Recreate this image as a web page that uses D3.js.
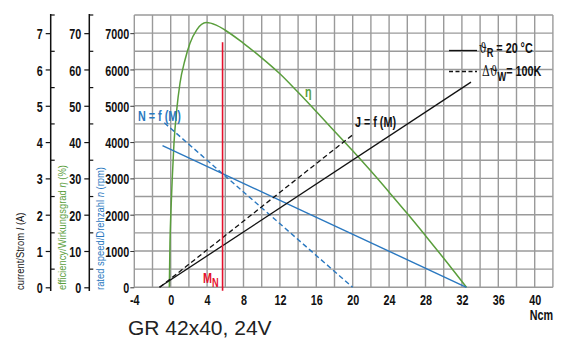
<!DOCTYPE html>
<html><head><meta charset="utf-8">
<script src="https://cdn.jsdelivr.net/npm/d3@7/dist/d3.min.js"></script>
<style>
body{margin:0;background:#fff;}
svg{display:block;}
.tk{font-family:"Liberation Sans",Arial,sans-serif;font-weight:bold;font-size:14px;}
.ttl{font-family:"Liberation Sans",Arial,sans-serif;font-size:11.5px;}
</style></head>
<body>
<svg id="c" width="569" height="358"></svg>
<script>
// ---- data ----
const xTicks = [-4, 0, 4, 8, 12, 16, 20, 24, 28, 32, 36, 40];
const speedTicks = [0, 1000, 2000, 3000, 4000, 5000, 6000, 7000];
const effTicks = [0, 10, 20, 30, 40, 50, 60, 70];
const curTicks = [0, 1, 2, 3, 4, 5, 6, 7];

// speed n = f(M), rpm
const speedColdM = [-0.9, 32.5];
const speedColdN = [3900, 0];
const speedHotM = [-0.7, 20];
const speedHotN = [4530, 0];
// current I = f(M), A
const curColdM = [-1.25, 33];
const curColdI = [0, 5.65];
const curHotM = [-1.2, 20];
const curHotI = [0, 4.2];
// efficiency eta, %
const effM = [-0.15, -0.08, 0.03, 0.18, 0.36, 0.66, 1.02, 1.57, 2.12, 2.86, 3.9, 5, 6, 8, 10, 12, 14, 16, 18, 20, 22, 24, 26, 28, 30, 32.5];
const effV = [0, 12, 21.3, 30.5, 39.7, 48.8, 56.2, 62.6, 67.2, 70.9, 72.9, 72.2, 70.8, 67.2, 63.2, 58.8, 53.7, 48.4, 43.0, 37.6, 32.0, 26.2, 20.3, 14.2, 8.0, 0];
// rated torque
const ratedM = 5.7;
const ratedTop = 6750; // in rpm-scale units

// ---- layout ----
const svg = d3.select("#c");
const x = d3.scaleLinear().domain([-4, 42]).range([134.3, 552.9]);
const yN = d3.scaleLinear().domain([0, 7500]).range([287.3, 15]);
const yE = d3.scaleLinear().domain([0, 75]).range([287.3, 15]);
const yI = d3.scaleLinear().domain([0, 7.5]).range([287.3, 15]);

const GREEN = "#5a9e3c", BLUE = "#2a78c0", RED = "#e5112d", GRID = "#9a9a9a";
const SX = 0.77;

// horizontally condense text (no condensed font is installed)
function condense(sel, sx) {
  sel.each(function () {
    const t = d3.select(this);
    const xx = +t.attr("x") || 0, yy = +t.attr("y") || 0;
    const tr = t.attr("transform") || "";
    t.attr("x", null).attr("y", null)
      .attr("transform", `${tr} translate(${xx},${yy}) scale(${sx},1)`);
  });
  return sel;
}

// grid
const g = svg.append("g");
g.selectAll(".v").data(d3.range(-4, 42.01, 2)).join("line")
  .attr("x1", d => x(d)).attr("x2", d => x(d)).attr("y1", yN(0)).attr("y2", yN(7500))
  .attr("stroke", GRID).attr("stroke-width", 1.4);
g.selectAll(".h").data(d3.range(0, 7500.1, 500)).join("line")
  .attr("x1", x(-4)).attr("x2", x(42)).attr("y1", d => yN(d)).attr("y2", d => yN(d))
  .attr("stroke", GRID).attr("stroke-width", 1.4);

// speed axis (left edge of plot)
const axN = d3.axisLeft(yN).tickValues(speedTicks).tickSize(4).tickPadding(1).tickFormat(d => String(d));
const gN = svg.append("g").attr("transform", `translate(${x(-4)},0)`).call(axN);
gN.select(".domain").remove();
condense(gN.selectAll("text").attr("class", "tk").attr("fill", "#111").attr("dy", "0.4em"), SX);
gN.selectAll("line").attr("stroke", "#333");

function sideAxis(xpos, scale, ticks, step) {
  const ax = d3.axisLeft(scale).tickValues(ticks).tickSize(5).tickPadding(3).tickFormat(d => String(d));
  const ga = svg.append("g").attr("transform", `translate(${xpos},0)`).call(ax);
  ga.select(".domain").remove();
  condense(ga.selectAll("text").attr("class", "tk").attr("fill", "#111").attr("dy", "0.4em"), SX);
  ga.selectAll("line").attr("stroke", "#111").attr("stroke-width", 1.2);
  ga.append("line").attr("x1", 0).attr("x2", 0).attr("y1", 291).attr("y2", 14)
    .attr("stroke", "#111").attr("stroke-width", 1.5);
  const minor = ticks.map(t => t + step / 2);
  ga.selectAll(".mn").data(minor).join("line")
    .attr("x1", 0).attr("x2", 4).attr("y1", d => scale(d)).attr("y2", d => scale(d))
    .attr("stroke", "#111").attr("stroke-width", 1.2);
}
sideAxis(50.7, yI, curTicks, 1);
sideAxis(89.3, yE, effTicks, 10);

// x axis labels
const axX = d3.axisBottom(x).tickValues(xTicks).tickSize(0).tickPadding(8).tickFormat(d => String(d));
const gX = svg.append("g").attr("transform", `translate(0,${yN(0)})`).call(axX);
gX.select(".domain").remove();
condense(gX.selectAll("text").attr("class", "tk").attr("fill", "#111"), SX);
condense(svg.append("text").attr("class", "tk").attr("x", 553).attr("y", 320).attr("text-anchor", "end").attr("fill", "#111").text("Ncm"), SX);

// axis titles
function vtitle(xc, color, parts) {
  const t = svg.append("text").attr("class", "ttl").attr("fill", color)
    .attr("transform", `translate(${xc},290) rotate(-90)`).attr("dy", "0.35em");
  parts.forEach(p => t.append("tspan").attr("font-style", p[1] ? "italic" : null).text(p[0]));
  condense(t, 0.82);
}
vtitle(20, "#111", [["current/Strom ", false], ["I", true], [" (A)", false]]);
vtitle(62, GREEN, [["efficiency/Wirkungsgrad ", false], ["η", true], [" (%)", false]]);
vtitle(100, BLUE, [["rated speed/Drehzahl ", false], ["n", true], [" (rpm)", false]]);

// lines
const pair = (ms, vs) => ms.map((m, i) => [m, vs[i]]);
const lineN = d3.line().x(d => x(d[0])).y(d => yN(d[1]));
const lineI = d3.line().x(d => x(d[0])).y(d => yI(d[1]));
const lineE = d3.line().x(d => x(d[0])).y(d => yE(d[1])).curve(d3.curveMonotoneX);

svg.append("path").attr("d", lineE(pair(effM, effV))).attr("fill", "none").attr("stroke", GREEN).attr("stroke-width", 1.5);
svg.append("path").attr("d", lineN(pair(speedColdM, speedColdN))).attr("fill", "none").attr("stroke", BLUE).attr("stroke-width", 1.4);
svg.append("path").attr("d", lineN(pair(speedHotM, speedHotN))).attr("fill", "none").attr("stroke", BLUE).attr("stroke-width", 1.4).attr("stroke-dasharray", "5,3");
svg.append("path").attr("d", lineI(pair(curColdM, curColdI))).attr("fill", "none").attr("stroke", "#111").attr("stroke-width", 1.3);
svg.append("path").attr("d", lineI(pair(curHotM, curHotI))).attr("fill", "none").attr("stroke", "#111").attr("stroke-width", 1.3).attr("stroke-dasharray", "5,3");

// rated torque
svg.append("line").attr("x1", x(ratedM)).attr("x2", x(ratedM)).attr("y1", yN(-95)).attr("y2", yN(ratedTop))
  .attr("stroke", RED).attr("stroke-width", 1.6);
const mn = svg.append("text").attr("class", "tk").attr("fill", RED).attr("x", 203).attr("y", 283);
mn.append("tspan").text("M");
mn.append("tspan").attr("dy", 4).attr("font-size", "12px").text("N");
condense(mn, SX);

// curve labels
condense(svg.append("text").attr("class", "tk").attr("fill", BLUE).attr("x", 138).attr("y", 121).text("N = f (M)"), SX);
condense(svg.append("text").attr("class", "tk").attr("fill", "#111").attr("x", 355).attr("y", 127).text("J = f (M)"), SX);
condense(svg.append("text").attr("class", "tk").attr("fill", GREEN).attr("x", 305).attr("y", 97).text("η"), SX);

// legend
svg.append("line").attr("x1", 449).attr("x2", 477).attr("y1", 50.5).attr("y2", 50.5).attr("stroke", "#111").attr("stroke-width", 1.3);
svg.append("line").attr("x1", 449).attr("x2", 477).attr("y1", 71.5).attr("y2", 71.5).attr("stroke", "#111").attr("stroke-width", 1.3).attr("stroke-dasharray", "4,2.5");
const l1 = svg.append("text").attr("class", "tk").attr("fill", "#111").attr("x", 479).attr("y", 53);
l1.append("tspan").attr("font-weight", "normal").attr("font-family", "DejaVu Serif").attr("font-size", "14px").text("ϑ");
l1.append("tspan").attr("dy", 4).attr("font-size", "12px").text("R");
l1.append("tspan").attr("dy", -4).text(" = 20 °C");
condense(l1, SX);
const l2 = svg.append("text").attr("class", "tk").attr("fill", "#111").attr("x", 482).attr("y", 76);
l2.append("tspan").attr("font-weight", "normal").attr("font-family", "DejaVu Serif").attr("font-size", "14px").text("Δϑ");
l2.append("tspan").attr("dy", 5).attr("font-size", "12px").text("W");
l2.append("tspan").attr("dy", -5).text("= 100K");
condense(l2, SX);

// title
svg.append("text").attr("x", 128).attr("y", 335).attr("font-family", "Liberation Sans, Arial, sans-serif")
  .attr("font-size", "21px").attr("fill", "#222").text("GR 42x40, 24V");
</script>
</body></html>
